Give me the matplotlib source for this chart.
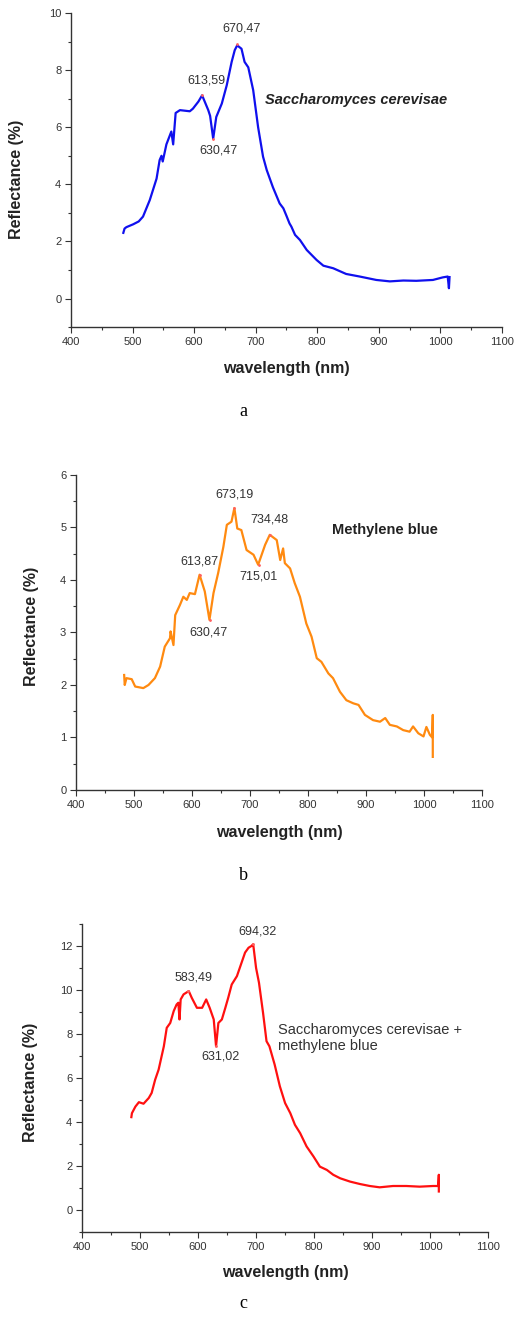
import matplotlib.pyplot as plt
from matplotlib.ticker import MultipleLocator

plt.rcParams['font.family'] = ['Liberation Sans', 'DejaVu Sans']

# (a) Saccharomyces cerevisae
wl_a = [485, 487, 490, 501, 510, 517, 528, 539, 544, 547, 549, 555, 563, 566, 570,
        577, 585, 593, 598, 607, 613, 623, 626, 631, 636, 645, 653, 661, 666, 670,
        677, 682, 688, 696, 704, 712, 718, 728, 739, 745, 750, 755, 758, 764, 772,
        783, 799, 810, 826, 847, 869, 896, 918, 940, 961, 988, 1004, 1012, 1014, 1015]
refl_a = [2.3, 2.45, 2.5, 2.6, 2.7, 2.87, 3.45, 4.2, 4.85, 5.0, 4.8, 5.4, 5.85, 5.4, 6.5,
          6.6, 6.58, 6.56, 6.65, 6.9, 7.12, 6.6, 6.4, 5.6, 6.36, 6.83, 7.47, 8.29, 8.7, 8.87,
          8.75, 8.29, 8.1, 7.3, 6.0, 4.97, 4.5, 3.9, 3.33, 3.16, 2.9, 2.63, 2.52, 2.23, 2.05,
          1.7, 1.35, 1.15, 1.06, 0.86, 0.77, 0.65, 0.6, 0.63, 0.62, 0.65, 0.74, 0.77, 0.36, 0.75]
peaks_a = [(670.47, 8.9, '670,47', 677, 9.45), (613.59, 7.12, '613,59', 620, 7.65),
           (630.47, 5.6, '630,47', 639, 5.17)]

# (b) Methylene blue
wl_b = [483, 484, 487, 496, 502, 516, 525, 536, 545, 553, 562, 563, 568, 571, 579,
        585, 591, 596, 605, 613, 622, 630, 637, 645, 654, 660, 668, 673, 678, 685,
        694, 706, 714, 726, 734, 746, 752, 757, 760, 769, 777, 786, 797, 806, 815,
        823, 835, 843, 855, 866, 878, 887, 898, 912, 924, 933, 941, 953, 964, 975,
        981, 990, 999, 1004, 1010, 1014, 1015, 1015]
refl_b = [2.19, 2.0, 2.13, 2.11, 1.97, 1.94, 2.0, 2.13, 2.35, 2.73, 2.89, 3.02, 2.76, 3.33, 3.52,
          3.68, 3.62, 3.75, 3.73, 4.1, 3.78, 3.24, 3.75, 4.13, 4.63, 5.05, 5.11, 5.37, 4.98, 4.95,
          4.57, 4.48, 4.29, 4.67, 4.86, 4.76, 4.38, 4.6, 4.32, 4.22, 3.94, 3.68, 3.17, 2.92, 2.51,
          2.44, 2.22, 2.13, 1.87, 1.71, 1.65, 1.62, 1.43, 1.33, 1.3, 1.37, 1.24, 1.21, 1.14, 1.11,
          1.21, 1.08, 1.02, 1.2, 1.05, 1.0, 1.43, 0.63]
peaks_b = [(673.19, 5.37, '673,19', 673, 5.63), (734.48, 4.86, '734,48', 734, 5.16),
           (613.87, 4.1, '613,87', 612, 4.35), (715.01, 4.29, '715,01', 714, 4.06),
           (630.47, 3.24, '630,47', 629, 3.0)]

# (c) Saccharomyces cerevisae + methylene blue
wl_c = [485, 486, 492, 498, 506, 515, 520, 526, 532, 541, 546, 552, 558, 563, 566,
        568, 570, 575, 584, 589, 598, 607, 614, 620, 627, 631, 635, 641, 647, 652,
        658, 667, 673, 681, 687, 692, 695, 700, 705, 712, 718, 723, 732, 741, 750,
        759, 767, 776, 787, 799, 810, 822, 833, 845, 862, 879, 896, 913, 936, 959,
        982, 1005, 1014, 1015, 1015]
refl_c = [4.22, 4.4, 4.7, 4.9, 4.83, 5.09, 5.32, 5.92, 6.38, 7.44, 8.28, 8.5, 9.04, 9.34, 9.42,
          8.66, 9.57, 9.8, 9.95, 9.65, 9.19, 9.19, 9.57, 9.19, 8.66, 7.44, 8.5, 8.66, 9.19, 9.65,
          10.25, 10.63, 11.09, 11.7, 11.92, 12.0, 12.08, 11.0, 10.33, 8.96, 7.67, 7.44, 6.61, 5.62, 4.86,
          4.4, 3.87, 3.49, 2.89, 2.43, 1.97, 1.82, 1.6, 1.44, 1.29, 1.18, 1.09, 1.03, 1.09, 1.09,
          1.06, 1.09, 1.09, 1.6, 0.84]
peaks_c = [(694.32, 12.08, '694,32', 703, 12.68), (583.49, 9.95, '583,49', 592, 10.56),
           (631.02, 7.44, '631,02', 639, 6.99)]

fig = plt.figure(figsize=(5.16, 13.23), dpi=100)

def style(ax, ylim, major, minor, ylab_pos, xlab_pos):
    ax.set_xlim(400, 1100)
    ax.set_ylim(*ylim)
    ax.xaxis.set_major_locator(MultipleLocator(100))
    ax.xaxis.set_minor_locator(MultipleLocator(50))
    ax.yaxis.set_major_locator(MultipleLocator(major))
    ax.yaxis.set_minor_locator(MultipleLocator(minor))
    for s in ['top', 'right']:
        ax.spines[s].set_visible(False)
    for s in ['left', 'bottom']:
        ax.spines[s].set_color('#333333')
        ax.spines[s].set_linewidth(1.0)
    ax.tick_params(which='major', direction='out', length=4, width=0.8,
                   labelsize=8, colors='#333333', pad=3)
    ax.tick_params(which='minor', direction='out', length=2.5, width=0.8, colors='#333333')
    ax.set_xlabel('wavelength (nm)', fontsize=11.5, fontweight='bold', color='#222222')
    ax.set_ylabel('Reflectance (%)', fontsize=11.5, fontweight='bold', color='#222222')
    ax.yaxis.set_label_coords(*ylab_pos)
    ax.xaxis.set_label_coords(*xlab_pos)

def panel(rect, wl, refl, color, peaks, ylim, major, minor, ylab_pos, xlab_pos):
    ax = fig.add_axes(rect)
    ax.plot(wl, refl, color=color, lw=1.6)
    for px, py, txt, tx, ty in peaks:
        ax.plot(px, py, marker='.', ms=2, color='#ff6060', zorder=3)
        ax.text(tx, ty, txt, ha='center', va='center', fontsize=9, color='#333333')
    style(ax, ylim, major, minor, ylab_pos, xlab_pos)
    return ax

ax_a = panel([0.1376, 0.7528, 0.835, 0.2373], wl_a, refl_a, '#1010ee', peaks_a, (-1, 10), 2, 1,
             (-0.109, 0.47), (0.5, -0.108))
ax_a.text(715, 6.97, 'Saccharomyces cerevisae', fontsize=10.5, fontweight='bold',
          fontstyle='italic', color='#222222', va='center')

ax_b = panel([0.1473, 0.4029, 0.787, 0.2381], wl_b, refl_b, '#ff8a10', peaks_b, (0, 6), 1, 0.5,
             (-0.091, 0.52), (0.5, -0.111))
ax_b.text(842, 4.95, 'Methylene blue', fontsize=10.5, fontweight='bold', color='#222222', va='center')

ax_c = panel([0.159, 0.0688, 0.787, 0.2328], wl_c, refl_c, '#ff1010', peaks_c, (-1, 13), 2, 1,
             (-0.108, 0.485), (0.5, -0.107))
ax_c.text(737, 7.8, 'Saccharomyces cerevisae +\nmethylene blue', fontsize=10.5,
          color='#333333', va='center', linespacing=1.2)

for y, lab in [(412, 'a'), (875, 'b'), (1303, 'c')]:
    fig.text(243 / 516, 1 - y / 1323, lab, ha='center', va='center',
             fontsize=13, family='Liberation Serif')

fig.savefig('out.png', dpi=100)
